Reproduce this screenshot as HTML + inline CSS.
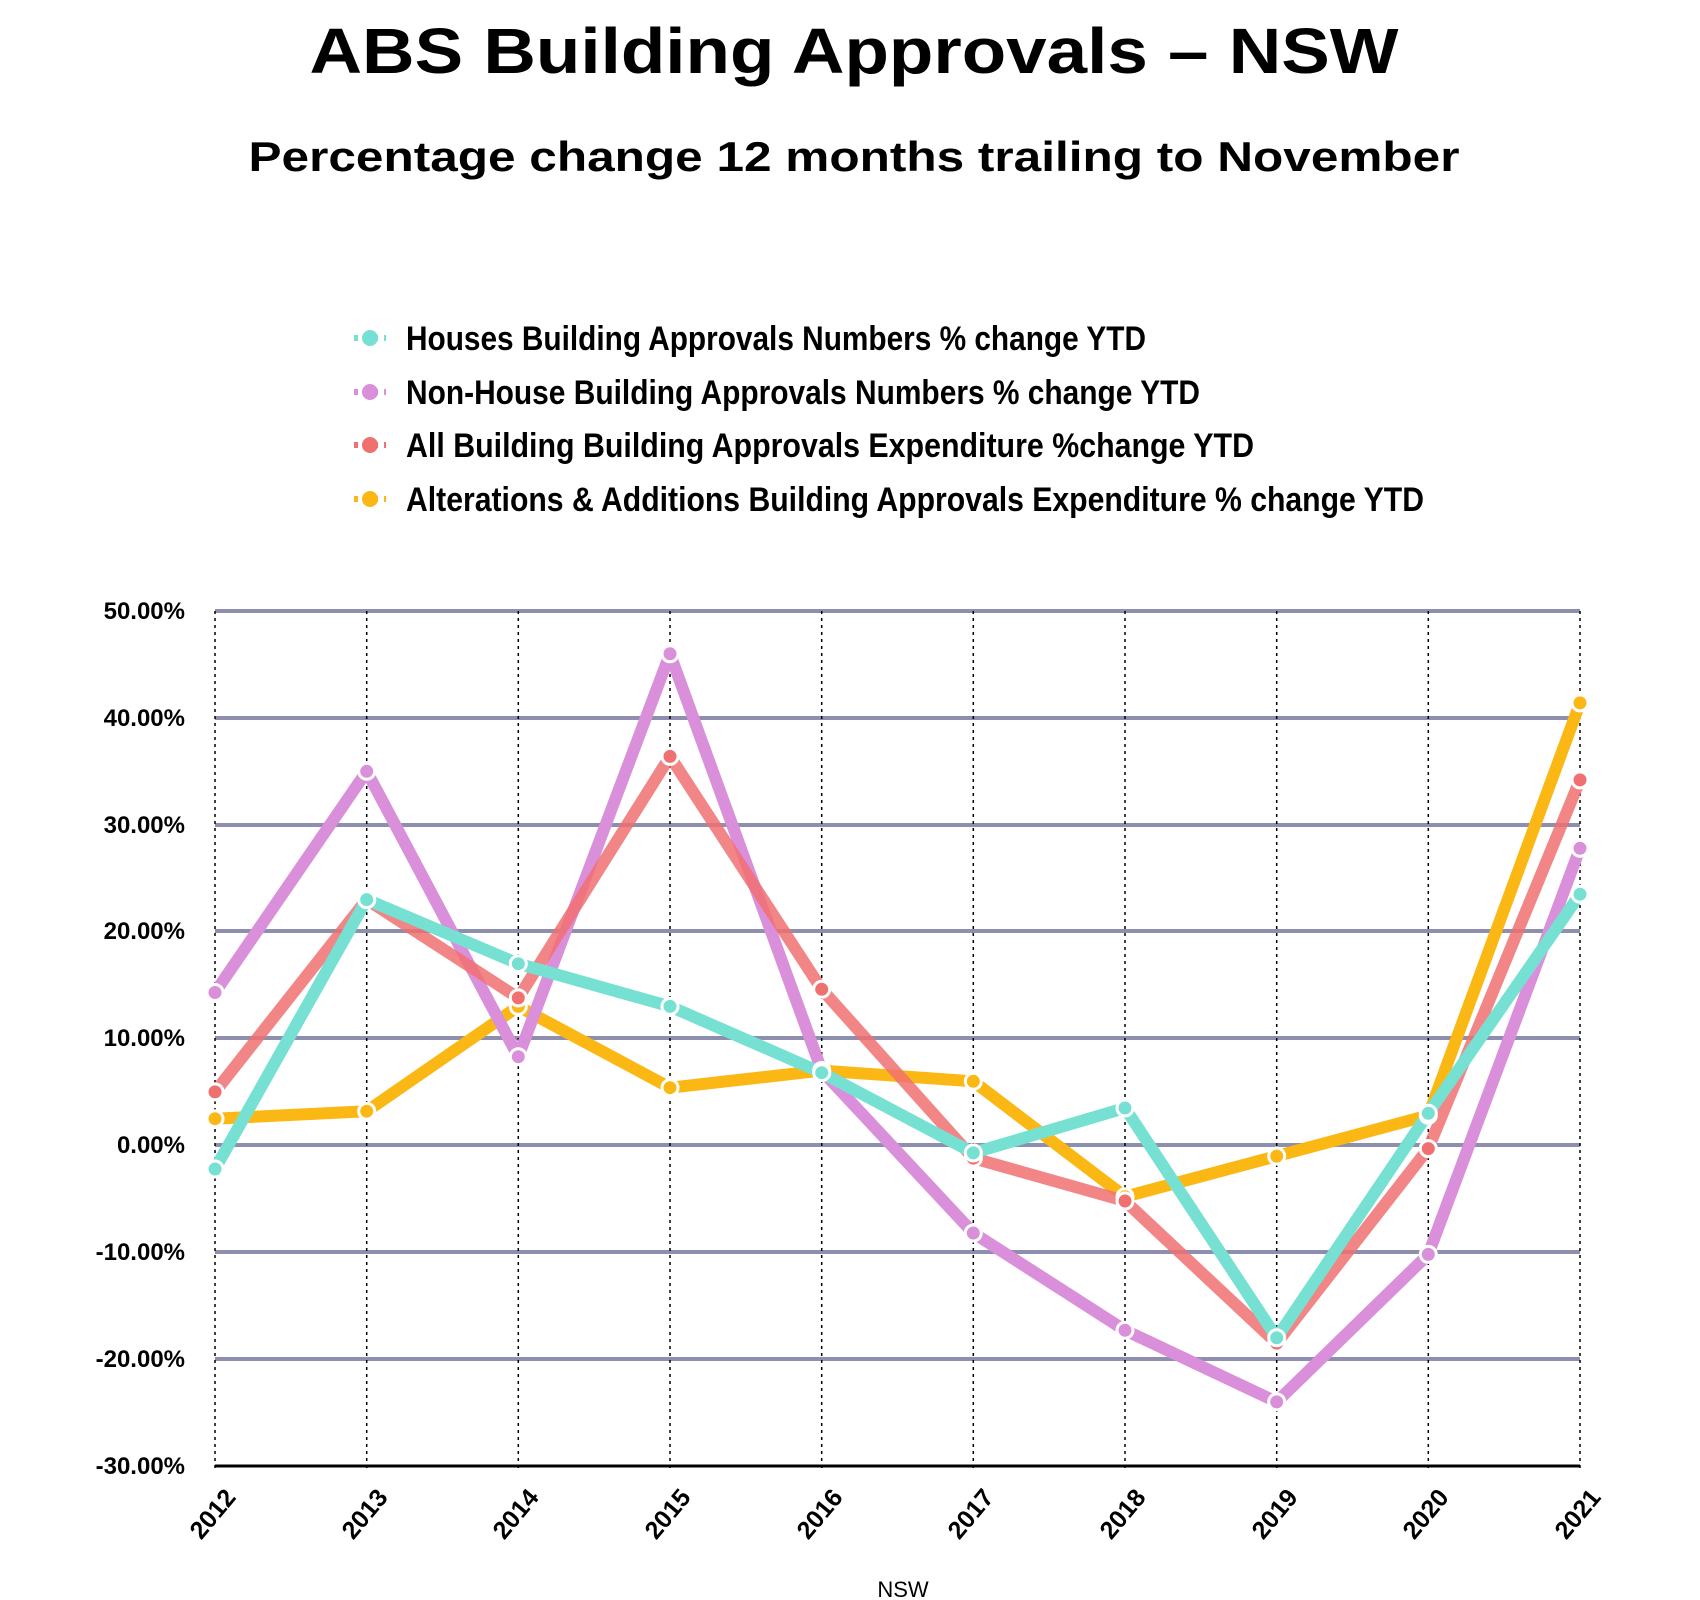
<!DOCTYPE html>
<html><head><meta charset="utf-8"><style>
html,body{margin:0;padding:0;background:#fff;}
svg{display:block}
.c{font-family:"Liberation Sans Narrow","Liberation Sans",sans-serif;font-stretch:condensed;font-weight:bold;}
</style></head><body>
<svg width="1700" height="1600" viewBox="0 0 1700 1600" xmlns="http://www.w3.org/2000/svg">
<text x="854" y="73" text-anchor="middle" font-family="Liberation Sans, sans-serif" font-weight="bold" font-size="64" textLength="1089" lengthAdjust="spacingAndGlyphs">ABS Building Approvals – NSW</text>
<text x="854" y="171" text-anchor="middle" font-family="Liberation Sans, sans-serif" font-weight="bold" font-size="42" textLength="1211" lengthAdjust="spacingAndGlyphs">Percentage change 12 months trailing to November</text>
<g class="c" font-size="34">
<g><line x1="354" y1="338" x2="386" y2="338" stroke="#76e0d2" stroke-width="6" stroke-dasharray="4 6"/><circle cx="370" cy="338" r="8" fill="#76e0d2"/><text x="406" y="350" textLength="740" lengthAdjust="spacingAndGlyphs">Houses Building Approvals Numbers % change YTD</text></g>
<g><line x1="354" y1="392" x2="386" y2="392" stroke="#d98fd9" stroke-width="6" stroke-dasharray="4 6"/><circle cx="370" cy="392" r="8" fill="#d98fd9"/><text x="406" y="404" textLength="794" lengthAdjust="spacingAndGlyphs">Non-House Building Approvals Numbers % change YTD</text></g>
<g><line x1="354" y1="445" x2="386" y2="445" stroke="#f07070" stroke-width="6" stroke-dasharray="4 6"/><circle cx="370" cy="445" r="8" fill="#f07070"/><text x="406" y="457" textLength="848" lengthAdjust="spacingAndGlyphs">All Building Building Approvals Expenditure %change YTD</text></g>
<g><line x1="354" y1="499" x2="386" y2="499" stroke="#fbb814" stroke-width="6" stroke-dasharray="4 6"/><circle cx="370" cy="499" r="8" fill="#fbb814"/><text x="406" y="511" textLength="1018" lengthAdjust="spacingAndGlyphs">Alterations &amp; Additions Building Approvals Expenditure % change YTD</text></g>
</g>
<g stroke="#8e8fae" stroke-width="4">
<line x1="215" y1="611" x2="1580" y2="611"/><line x1="215" y1="718" x2="1580" y2="718"/><line x1="215" y1="825" x2="1580" y2="825"/><line x1="215" y1="931" x2="1580" y2="931"/><line x1="215" y1="1038" x2="1580" y2="1038"/><line x1="215" y1="1145" x2="1580" y2="1145"/><line x1="215" y1="1252" x2="1580" y2="1252"/><line x1="215" y1="1359" x2="1580" y2="1359"/>
</g>
<g stroke="#000" stroke-width="1.5" stroke-dasharray="3 4">
<line x1="215" y1="611" x2="215" y2="1470"/><line x1="366.7" y1="611" x2="366.7" y2="1470"/><line x1="518.3" y1="611" x2="518.3" y2="1470"/><line x1="670" y1="611" x2="670" y2="1470"/><line x1="821.7" y1="611" x2="821.7" y2="1470"/><line x1="973.3" y1="611" x2="973.3" y2="1470"/><line x1="1125" y1="611" x2="1125" y2="1470"/><line x1="1276.7" y1="611" x2="1276.7" y2="1470"/><line x1="1428.3" y1="611" x2="1428.3" y2="1470"/><line x1="1580" y1="611" x2="1580" y2="1470"/>
</g>
<line x1="215" y1="1466" x2="1580" y2="1466" stroke="#000" stroke-width="3"/>
<g class="c" font-size="24" text-anchor="end">
<text x="185" y="619">50.00%</text><text x="185" y="726">40.00%</text><text x="185" y="833">30.00%</text><text x="185" y="939">20.00%</text><text x="185" y="1046">10.00%</text><text x="185" y="1153">0.00%</text><text x="185" y="1260">-10.00%</text><text x="185" y="1367">-20.00%</text><text x="185" y="1474">-30.00%</text>
</g>
<g class="c" font-size="25" text-anchor="end">
<text transform="translate(237,1498) rotate(-50)">2012</text>
<text transform="translate(389,1498) rotate(-50)">2013</text>
<text transform="translate(540,1498) rotate(-50)">2014</text>
<text transform="translate(692,1498) rotate(-50)">2015</text>
<text transform="translate(844,1498) rotate(-50)">2016</text>
<text transform="translate(995,1498) rotate(-50)">2017</text>
<text transform="translate(1147,1498) rotate(-50)">2018</text>
<text transform="translate(1299,1498) rotate(-50)">2019</text>
<text transform="translate(1450,1498) rotate(-50)">2020</text>
<text transform="translate(1602,1498) rotate(-50)">2021</text>
</g>
<text x="903" y="1597" text-anchor="middle" font-family="Liberation Sans Narrow, Liberation Sans, sans-serif" font-size="22">NSW</text>

<g fill="none" stroke-width="12" stroke-linejoin="round">
<polyline stroke="#fbb814" points="215,1118.7 366.7,1111.2 518.3,1006.4 670,1087.7 821.7,1070.6 973.3,1081.3 1125,1196.7 1276.7,1156.1 1428.3,1115.4 1580,702.9"/>
<polyline stroke="#d98fd9" points="215,992.5 366.7,771.3 518.3,1056.7 670,653.8 821.7,1070.6 973.3,1233 1125,1330.3 1276.7,1401.9 1428.3,1254.4 1580,848.3"/>
<polyline stroke="#f07070" stroke-opacity="0.85" points="215,1091.9 366.7,899.6 518.3,997.9 670,756.4 821.7,989.3 973.3,1158.2 1125,1201 1276.7,1343.1 1428.3,1148.6 1580,779.9"/>
<polyline stroke="#76e0d2" points="215,1169 366.7,899.6 518.3,963.7 670,1006.4 821.7,1072.7 973.3,1152.9 1125,1108 1276.7,1337.8 1428.3,1113.3 1580,894.2"/>
</g>
<g stroke="#fff" stroke-width="3">
<g fill="#fbb814"><circle cx="215" cy="1118.7" r="8"/><circle cx="366.7" cy="1111.2" r="8"/><circle cx="518.3" cy="1006.4" r="8"/><circle cx="670" cy="1087.7" r="8"/><circle cx="821.7" cy="1070.6" r="8"/><circle cx="973.3" cy="1081.3" r="8"/><circle cx="1125" cy="1196.7" r="8"/><circle cx="1276.7" cy="1156.1" r="8"/><circle cx="1428.3" cy="1115.4" r="8"/><circle cx="1580" cy="702.9" r="8"/></g>
<g fill="#d98fd9"><circle cx="215" cy="992.5" r="8"/><circle cx="366.7" cy="771.3" r="8"/><circle cx="518.3" cy="1056.7" r="8"/><circle cx="670" cy="653.8" r="8"/><circle cx="821.7" cy="1070.6" r="8"/><circle cx="973.3" cy="1233" r="8"/><circle cx="1125" cy="1330.3" r="8"/><circle cx="1276.7" cy="1401.9" r="8"/><circle cx="1428.3" cy="1254.4" r="8"/><circle cx="1580" cy="848.3" r="8"/></g>
<g fill="#f07070"><circle cx="215" cy="1091.9" r="8"/><circle cx="366.7" cy="899.6" r="8"/><circle cx="518.3" cy="997.9" r="8"/><circle cx="670" cy="756.4" r="8"/><circle cx="821.7" cy="989.3" r="8"/><circle cx="973.3" cy="1158.2" r="8"/><circle cx="1125" cy="1201" r="8"/><circle cx="1276.7" cy="1343.1" r="8"/><circle cx="1428.3" cy="1148.6" r="8"/><circle cx="1580" cy="779.9" r="8"/></g>
<g fill="#76e0d2"><circle cx="215" cy="1169" r="8"/><circle cx="366.7" cy="899.6" r="8"/><circle cx="518.3" cy="963.7" r="8"/><circle cx="670" cy="1006.4" r="8"/><circle cx="821.7" cy="1072.7" r="8"/><circle cx="973.3" cy="1152.9" r="8"/><circle cx="1125" cy="1108" r="8"/><circle cx="1276.7" cy="1337.8" r="8"/><circle cx="1428.3" cy="1113.3" r="8"/><circle cx="1580" cy="894.2" r="8"/></g>
</g>
</svg>
</body></html>
